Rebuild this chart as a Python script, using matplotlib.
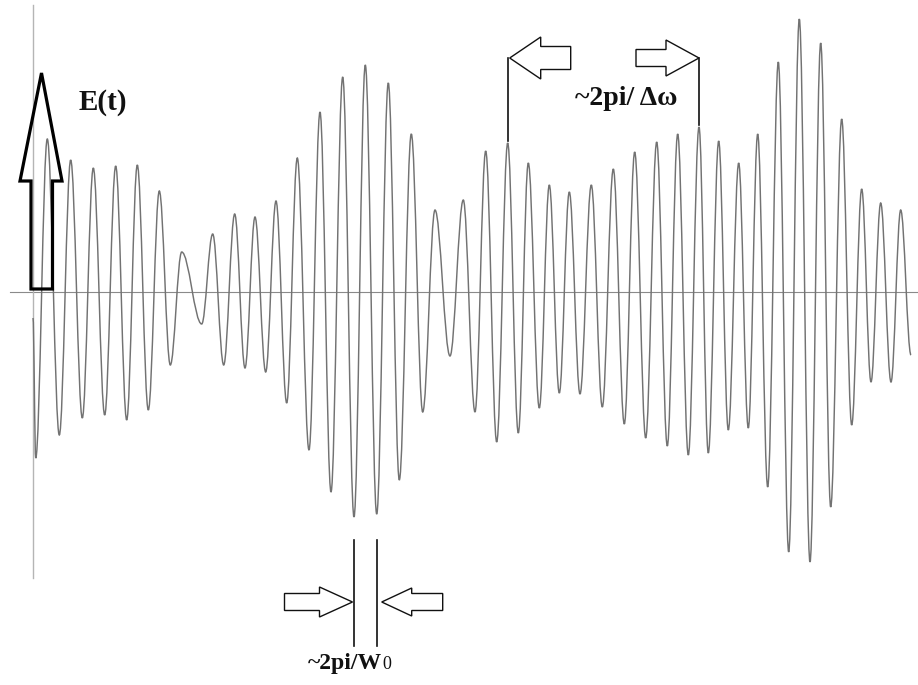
import numpy as np
import matplotlib
matplotlib.use("Agg")
import matplotlib.pyplot as plt
from matplotlib.path import Path
from matplotlib.patches import PathPatch, Polygon

# turning points of the field trace (time and E in arbitrary units)
start_t, start_e = 0.0, -0.26
end_t, end_e = 878.0, -0.63

peak_t = [14.3, 37.7, 60.3, 82.7, 104.3, 126.3, 148.7, 179.7, 201.7, 222.0,
          243.0, 264.3, 287.0, 309.7, 332.3, 355.3, 378.3, 402.0, 430.3, 452.7,
          474.7, 495.3, 516.3, 536.3, 558.3, 580.3, 601.7, 623.7, 644.7, 666.0,
          685.7, 705.7, 724.7, 745.3, 766.3, 787.7, 808.7, 828.7, 847.7, 867.7]
peak_e = [1.53, 1.32, 1.24, 1.26, 1.27, 1.01, 0.40, 0.58, 0.78, 0.75,
          0.91, 1.34, 1.80, 2.15, 2.27, 2.09, 1.58, 0.82, 0.92, 1.41,
          1.49, 1.29, 1.07, 1.00, 1.07, 1.23, 1.40, 1.50, 1.58, 1.65,
          1.51, 1.29, 1.58, 2.30, 2.73, 2.49, 1.73, 1.03, 0.89, 0.82]

trough_t = [2.7, 26.3, 49.3, 71.7, 93.7, 115.3, 137.3, 168.7, 190.7, 212.0,
            232.7, 253.7, 276.0, 298.0, 321.0, 343.7, 366.3, 389.7, 417.0, 442.0,
            463.7, 485.3, 506.3, 526.3, 547.0, 569.3, 591.3, 612.7, 634.3, 655.3,
            675.3, 695.3, 715.3, 734.7, 755.7, 777.0, 797.7, 818.7, 838.0, 858.0]
trough_e = [-1.66, -1.43, -1.26, -1.23, -1.28, -1.18, -0.73, -0.32, -0.73, -0.76,
            -0.80, -1.11, -1.58, -2.00, -2.25, -2.22, -1.88, -1.20, -0.64, -1.20,
            -1.50, -1.41, -1.16, -1.01, -1.02, -1.15, -1.32, -1.46, -1.54, -1.63,
            -1.61, -1.38, -1.36, -1.95, -2.60, -2.70, -2.15, -1.33, -0.90, -0.90]

# which turning points the period markers sit on
beat_marks = (20, 29)      # peak indices, upper bracket
carrier_marks = (14, 15)   # trough indices, lower bracket

fig = plt.figure(figsize=(9.18, 6.85), dpi=100)
ax = fig.add_axes([0, 0, 1, 1])
ax.set_xlim(-33, 885)
ax.set_ylim(-3.93, 2.92)
ax.axis("off")

# one pixel in data units
sx = (885 + 33) / 918
sy = (2.92 + 3.93) / 685

# merge peaks and troughs in time order
pts = sorted([(start_t, start_e), (end_t, end_e)]
             + list(zip(peak_t, peak_e)) + list(zip(trough_t, trough_e)))

# smooth trace: cubic segments with flat tangents at each turning point
c = 0.363
verts = [pts[0]]
codes = [Path.MOVETO]
for (t0, e0), (t1, e1) in zip(pts[:-1], pts[1:]):
    dt = t1 - t0
    verts += [(t0 + c * dt, e0), (t1 - c * dt, e1), (t1, e1)]
    codes += [Path.CURVE4] * 3
ax.add_patch(PathPatch(Path(verts, codes), fill=False, ec="#727272", lw=1.05,
                       zorder=3))

# axes lines
ax.plot([-23, 885], [0, 0], color="#8a8a8a", lw=0.8, zorder=2)
ax.plot([0, 0], [2.87, -2.86], color="#b5b5b5", lw=1.0, zorder=2)


def hollow_arrow(tip_t, tip_e, direction, head_len, head_half, shaft_half,
                 length, lw=1.0):
    # horizontal open block arrow, sizes in pixels
    d = direction
    xs = [0, d * head_len, d * head_len, d * length, d * length,
          d * head_len, d * head_len]
    ys = [0, head_half, shaft_half, shaft_half, -shaft_half, -shaft_half,
          -head_half]
    poly = [(tip_t + x * sx, tip_e + y * sy) for x, y in zip(xs, ys)]
    ax.add_patch(Polygon(poly, closed=True, fill=False, ec="#111111", lw=lw,
                         joinstyle="miter", zorder=4))


# big E(t) arrow on the vertical axis
up = [(-2, 0.03), (19.5, 0.03), (19.5, 1.11), (29, 1.11), (8.5, 2.19),
      (-13, 1.11), (-2, 1.11)]
ax.add_patch(Polygon(up, closed=True, fill=False, ec="black", lw=2.3,
                     joinstyle="miter", zorder=4))
ax.text(46, 1.89, "E(t)", family="Liberation Serif", weight="bold",
        fontsize=21, va="center", ha="left", color="#111111")

# beat period bracket
top_e = 2.34
for i in beat_marks:
    ax.plot([peak_t[i], peak_t[i]], [peak_e[i] + 0.02, top_e], color="#111111",
            lw=1.2, zorder=4)
hollow_arrow(peak_t[beat_marks[0]] + 2, top_e, 1, 31, 21, 11.5, 61)
hollow_arrow(peak_t[beat_marks[1]], top_e, -1, 33, 18, 8.5, 63)
ax.text(593, 1.93, "~2pi/ \u0394\u03c9", family="Liberation Serif",
        weight="bold", fontsize=20, va="center", ha="center", color="#111111")

# carrier period bracket
bot_hi, bot_lo = -2.48, -3.54
for i in carrier_marks:
    ax.plot([trough_t[i], trough_t[i]], [bot_hi, bot_lo], color="#111111",
            lw=1.2, zorder=4)
hollow_arrow(trough_t[carrier_marks[0]] - 1.5, -3.10, -1, 33, 15, 8.5, 68)
hollow_arrow(trough_t[carrier_marks[1]] + 5, -3.10, 1, 30, 14, 8.5, 61)
ax.text(349, -3.77, "~2pi/W", family="Liberation Serif", weight="bold",
        fontsize=17, va="baseline", ha="right", color="#111111")
ax.text(349, -3.77, "0", family="Liberation Serif", fontsize=13,
        va="baseline", ha="left", color="#111111")

fig.savefig("out.png", dpi=100, facecolor="white")
